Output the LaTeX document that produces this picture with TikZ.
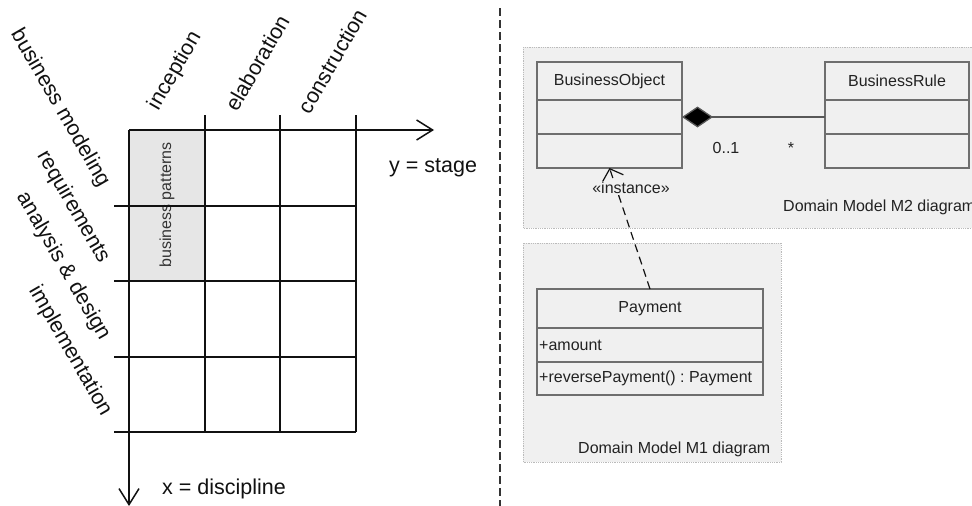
\documentclass[tikz,border=0pt]{standalone}
\usepackage{fontspec}
\setmainfont{Liberation Sans}
\usetikzlibrary{arrows.meta}
\frenchspacing
\definecolor{ink}{HTML}{111111}
\definecolor{cellgrey}{HTML}{E6E6E6}
\definecolor{panelbg}{HTML}{F0F0F0}
\definecolor{panelrim}{HTML}{BBBBBB}
\definecolor{umlline}{HTML}{6E6E6E}
\definecolor{umltext}{HTML}{222222}
\begin{document}
\begin{tikzpicture}[x=1pt,y=-1pt,
  gridline/.style={line width=1.5pt, draw=ink},
  axis/.style={gridline, -{Straight Barb[length=16pt,width=20pt,line width=1.5pt]}},
  biglabel/.style={font=\fontsize{21.5}{24}\selectfont, text=ink, inner sep=0pt},
  panel/.style={fill=panelbg, draw=panelrim, line width=0.8pt, densely dotted},
  umlfont/.style={font=\fontsize{16}{19}\selectfont, text=umltext},
  comp/.style={draw=umlline, line width=1.1pt, inner sep=0pt, outer sep=0pt, umlfont},
  member/.style={umlfont, anchor=west, inner sep=2pt},
  composition/.style={draw=umlline!80!black, line width=1.3pt, {Diamond[length=31pt,width=21pt,fill=black]}-},
  dependency/.style={draw=ink, line width=1.2pt, dash pattern=on 8pt off 5pt,
    -{Straight Barb[length=10pt,width=22pt,line width=1.2pt]}},
]
\useasboundingbox (0,0) rectangle (972,506);
\clip (0,0) rectangle (972,506);

% ---------- discipline / stage matrix ----------
\fill[cellgrey] (129,130) rectangle (205,281);
\node[font=\fontsize{16}{19}\selectfont, text=black!80, rotate=90, inner sep=0pt] (pat) at (167,205) {business patterns};

% column rules
\foreach \cx in {205,280,356} \draw[gridline] (\cx,115) -- (\cx,432);
% row rules
\foreach \ry in {206,281,357,432} \draw[gridline] (114,\ry) -- (356,\ry);

% axes
\coordinate (origin) at (129,130);
\coordinate (yend) at (434,130);
\coordinate (xend) at (129,506);
\draw[axis] (origin) -- (yend);
\draw[axis] (origin) -- (xend);

\node[biglabel, anchor=west] (ylab) at (389,168) {y = stage};
\node[biglabel, anchor=west] (xlab) at (162,489) {x = discipline};

% stage headings
\node[biglabel, rotate=60] (inc) at (175,71) {inception};
\node[biglabel, rotate=60] (ela) at (257,63) {elaboration};
\node[biglabel, rotate=60] (con) at (332,61) {construction};

% discipline headings
\node[biglabel, rotate=-60] (bm) at (60,108) {business modeling};
\node[biglabel, rotate=-60] (req) at (73,207) {requirements};
\node[biglabel, rotate=-60] (ad) at (63,266) {analysis \& design};
\node[biglabel, rotate=-60] (imp) at (70,351) {implementation};

% separator
\draw[line width=2pt, draw=black!80, dash pattern=on 8pt off 4pt] (500,8) -- (500,506);

% ---------- domain model panels ----------
\path[panel] (523,47) rectangle (995,228);
\path[panel] (523,243) rectangle (781,462);
\node[umlfont, anchor=west, inner sep=0pt] (m2) at (783,207) {Domain Model M2 diagram};
\node[umlfont, anchor=west, inner sep=0pt] (m1) at (578,449) {Domain Model M1 diagram};

% BusinessObject
\node[comp, minimum width=145pt, minimum height=38pt] (boname) at (609.5,81) {BusinessObject};
\node[comp, minimum width=145pt, minimum height=34pt] (boattr) at (609.5,117) {};
\node[comp, minimum width=145pt, minimum height=34pt] (boops) at (609.5,151) {};

% BusinessRule
\node[comp, minimum width=144pt, minimum height=38pt] (brname) at (897,81) {BusinessRule};
\node[comp, minimum width=144pt, minimum height=34pt] (brattr) at (897,117) {};
\node[comp, minimum width=144pt, minimum height=34pt] (brops) at (897,151) {};

% Payment
\node[comp, minimum width=226pt, minimum height=39pt] (payname) at (650,308.5) {Payment};
\node[comp, minimum width=226pt, minimum height=34pt] (payattr) at (650,345) {};
\node[comp, minimum width=226pt, minimum height=33pt] (payops) at (650,378.5) {};
\node[member] (amt) at (payattr.west) {+amount};
\node[member] (rev) at (payops.west) {+reversePayment() : Payment};

% composition with multiplicities
\draw[composition] (boattr.east) -- (brattr.west);
\node[umlfont, anchor=base, inner sep=0pt] (m01) at (726,153) {0..1};
\node[umlfont, anchor=base, inner sep=0pt] (mstar) at (791,153) {*};

% instance-of dependency
\draw[dependency] (payname.north) -- (boops.south);
\node[umlfont, fill=panelbg, inner sep=1pt] (inst) at (631,188) {«instance»};
\end{tikzpicture}
\end{document}
